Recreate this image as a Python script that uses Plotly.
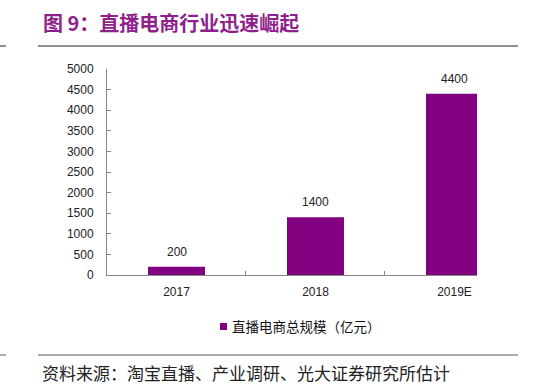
import plotly.graph_objects as go

categories = ["2017", "2018", "2019E"]
values = [200, 1400, 4400]
value_labels = ["200", "1400", "4400"]
series_name = "直播电商总规模（亿元）"
title_text = "图 9：直播电商行业迅速崛起"
source_text = "资料来源：淘宝直播、产业调研、光大证券研究所估计"
y_ticks = [0, 500, 1000, 1500, 2000, 2500, 3000, 3500, 4000, 4500, 5000]

W, H = 550, 386
L, R, T, B = 107, 73, 69, 111
BAR_COLOR = "#800080"

def px_x(p):
    return (p - L) / (W - L - R)

def px_y(p):
    return ((H - B) - p) / (H - T - B)

fig = go.Figure()
fig.add_trace(go.Bar(
    x=categories, y=values, name=series_name,
    marker=dict(color=BAR_COLOR, line=dict(width=0)),
    width=0.41,
    cliponaxis=False, showlegend=False, hoverinfo="x+y",
))

# value labels above bars (category index positions)
for i, (v, t) in enumerate(zip(values, value_labels)):
    fig.add_annotation(
        x=i, y=v, text=t, xref="x", yref="y",
        yshift=15, yanchor="middle", showarrow=False,
        font=dict(family="Liberation Sans, Arial", size=12, color="#222"),
    )

fig.update_layout(
    width=W, height=H,
    margin=dict(l=L, r=R, t=T, b=B, pad=0, autoexpand=False),
    paper_bgcolor="white", plot_bgcolor="white",
    font=dict(family="Liberation Sans, Arial", size=12, color="#222"),
    showlegend=False,
    xaxis=dict(
        type="category", range=[-0.5, 2.162],
        showline=True, linecolor="#888", linewidth=1,
        ticks="inside", tickson="boundaries", ticklen=4, tickcolor="#888",
        showgrid=False, zeroline=False,
        tickfont=dict(family="Liberation Sans, Arial", size=12, color="#222"),
        ticklabelstandoff=6,
    ),
    yaxis=dict(
        range=[0, 5000], tickvals=y_ticks,
        showline=True, linecolor="#888", linewidth=1,
        ticks="inside", ticklen=4, tickcolor="#888",
        showgrid=False, zeroline=False,
        tickfont=dict(family="Liberation Sans, Arial", size=12, color="#222"),
        ticklabelstandoff=10,
    ),
)

# title / source
fig.add_annotation(
    text=title_text, xref="paper", yref="paper",
    x=px_x(41), y=px_y(22),
    xanchor="left", yanchor="middle", showarrow=False,
    font=dict(family="Noto Sans CJK SC", size=20, color="#8E1F8C", weight=600),
)
fig.add_annotation(
    text=source_text, xref="paper", yref="paper",
    x=px_x(40), y=px_y(372),
    xanchor="left", yanchor="middle", showarrow=False,
    font=dict(family="Noto Sans CJK SC", size=17, color="#222"),
)

# legend (drawn manually for compact swatch)
fig.add_shape(type="rect", xref="paper", yref="paper",
              x0=px_x(220), x1=px_x(227), y0=px_y(323), y1=px_y(330),
              fillcolor=BAR_COLOR, line=dict(width=0))
fig.add_annotation(
    text=series_name, xref="paper", yref="paper",
    x=px_x(230), y=px_y(326),
    xanchor="left", yanchor="middle", showarrow=False,
    font=dict(family="Noto Sans CJK SC", size=13.5, color="#111"),
)

for yy, col in [(46, "#222"), (355, "#555")]:
    fig.add_shape(type="line", xref="paper", yref="paper",
                  x0=px_x(38), x1=px_x(518), y0=px_y(yy), y1=px_y(yy),
                  line=dict(color=col, width=1))
    fig.add_shape(type="line", xref="paper", yref="paper",
                  x0=px_x(0), x1=px_x(6), y0=px_y(yy), y1=px_y(yy),
                  line=dict(color=col, width=1))

fig.write_html(
    "out.html",
    config={"displayModeBar": False},
    post_script="document.body.style.margin='0';document.body.style.overflow='hidden';",
)
